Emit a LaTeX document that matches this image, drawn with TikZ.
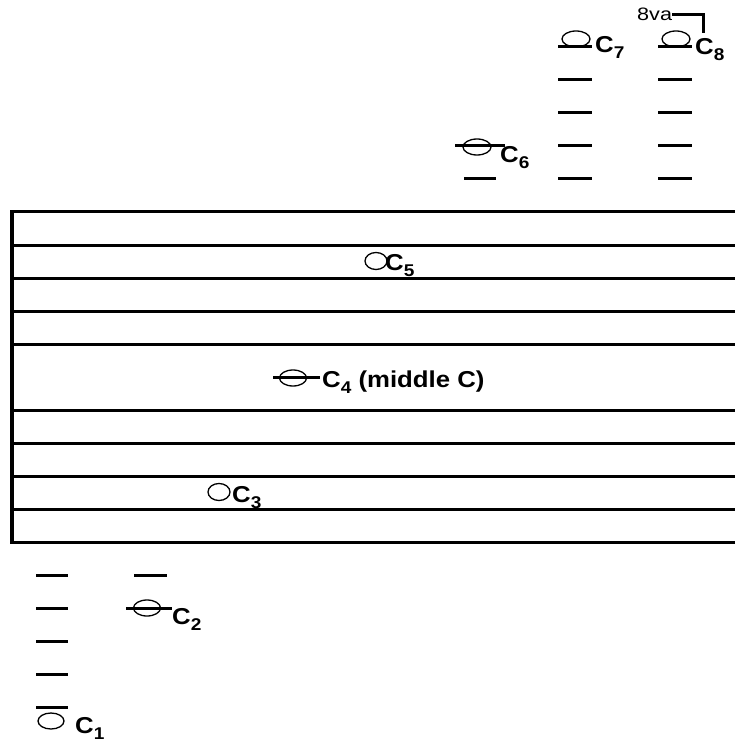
\documentclass[tikz,border=0pt]{standalone}
\usepackage{fontspec}
\setmainfont{Liberation Sans}
\usetikzlibrary{shapes.geometric}
\newcommand\widetxt[1]{\scalebox{1.12}[1]{#1}}
\newcommand\csub[1]{\raisebox{-6pt}{\fontsize{17}{17}\selectfont #1}}
\newcommand\clab[1]{\widetxt{C\csub{#1}}}
\begin{document}
\begin{tikzpicture}[x=1pt,y=-1pt,
  staffline/.style={line width=3pt},
  ledger/.style={line width=3pt},
  bar/.style={line width=3.5pt},
  note/.style={ellipse,draw,line width=1.3pt,minimum width=25pt,minimum height=16pt,inner sep=0pt},
  lbl/.style={anchor=base west,inner sep=0pt,font=\fontsize{23}{25}\selectfont\bfseries}]
\useasboundingbox (0,0) rectangle (735,743);
% staff
\foreach \yy in {212,245,278,311,344,410,443,476,509,542}
  \draw[staffline] (12,\yy) -- (735,\yy);
\draw[bar] (12,210.5) -- (12,543.5);
% ledger lines high
\draw[ledger] (464,179) -- (496,179);
\draw[ledger] (455,146) -- (505,146);
\foreach \yy in {47,80,113,146,179} {
  \draw[ledger] (558,\yy) -- (592,\yy);
  \draw[ledger] (658,\yy) -- (692,\yy);
}
% middle C ledger
\draw[ledger] (273,377) -- (320,377);
% ledger lines low
\foreach \yy in {575,608,641,674,707}
  \draw[ledger] (36,\yy) -- (68,\yy);
\draw[ledger] (134,575) -- (167,575);
\draw[ledger] (126,608) -- (172,608);
% notes
\node[note,minimum width=26pt] (n1) at (51,721) {};
\node[note,minimum width=27pt] (n2) at (147,608) {};
\node[note,minimum width=22pt,minimum height=17pt] (n3) at (219,492) {};
\node[note,minimum width=27pt] (n4) at (293,378) {};
\node[note,minimum width=22pt,minimum height=17pt] (n5) at (376,261) {};
\node[note,minimum width=28pt] (n6) at (477,147) {};
\node[note,minimum width=28pt] (n7) at (576,39) {};
\node[note,minimum width=28pt] (n8) at (676,39) {};
% labels
\node[lbl] (l1) at (75,733) {\clab{1}};
\node[lbl] (l2) at (172,624) {\clab{2}};
\node[lbl] (l3) at (232,502) {\clab{3}};
\node[lbl] (l4) at (322,387) {\widetxt{C\csub{4} (middle C)}};
\node[lbl] (l5) at (385,270) {\clab{5}};
\node[lbl] (l6) at (500,163) {\clab{6}};
\node[lbl] (l7) at (595,53) {\clab{7}};
\node[lbl] (l8) at (695,55) {\clab{8}};
% 8va
\node[anchor=base west,inner sep=0pt,font=\fontsize{18}{20}\selectfont] (va) at (637,21) {\scalebox{1.2}[1]{8va}};
\draw[line width=3pt] (va.east |- 0,15) -- (703,15) -- (703,33);
\end{tikzpicture}
\end{document}
